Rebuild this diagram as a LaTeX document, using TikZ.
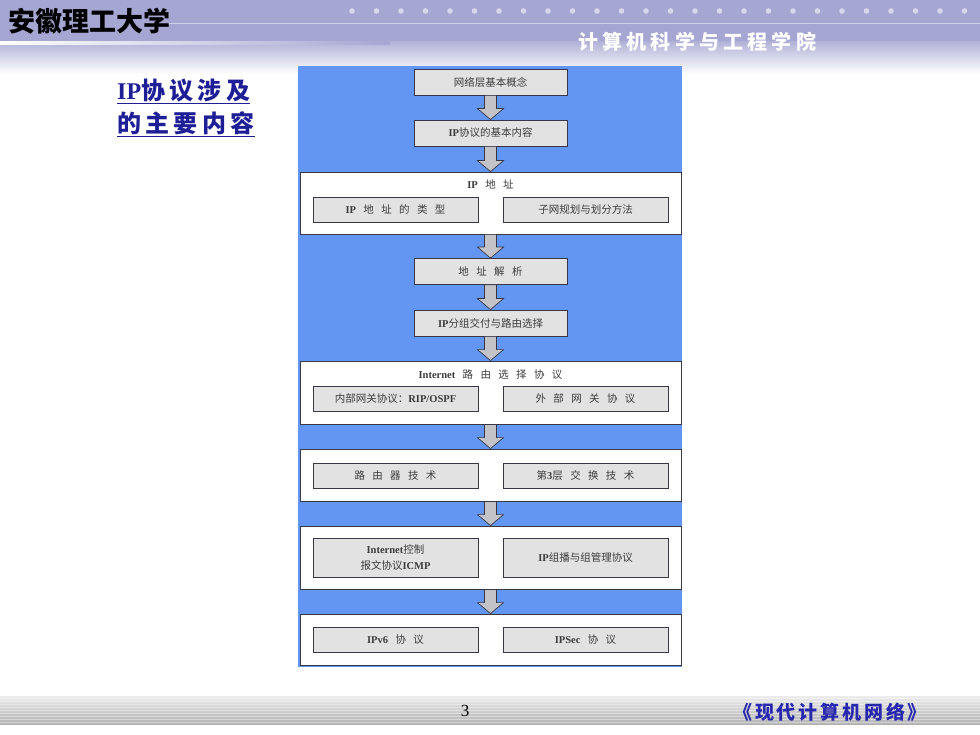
\documentclass[tikz,border=0pt]{standalone}
\usepackage{fontspec}
\setmainfont{Liberation Serif}
\newfontfamily\cjk{Noto Sans CJK SC}
\usetikzlibrary{calc}

\definecolor{panelblue}{RGB}{98,150,242}
\definecolor{boxgray}{RGB}{226,226,226}
\definecolor{boxline}{RGB}{55,55,70}
\definecolor{arrgray}{RGB}{195,195,200}
\definecolor{txtgray}{RGB}{60,60,60}
\definecolor{headblue}{RGB}{30,30,150}
\definecolor{lavender}{RGB}{166,166,210}
\definecolor{footblue}{RGB}{40,40,175}

\newcommand\en[1]{{\rmfamily\bfseries #1}}
\newcommand\kg{\hspace{0.7em}}
\newcommand\flowarrow[2]{\draw[flowarr] let \p1=(#1.south), \p2=(#2.north) in
  ({\x1-6pt},\y1) -- ({\x1-6pt},{\y2+11pt}) -- ({\x1-13pt},{\y2+11pt}) -- (\x1,\y2)
  -- ({\x1+13pt},{\y2+11pt}) -- ({\x1+6pt},{\y2+11pt}) -- ({\x1+6pt},\y1) -- cycle;}

\tikzset{
  flowbox/.style={draw=boxline, fill=boxgray, line width=0.8pt, minimum width=153,
    minimum height=26, inner sep=0pt, align=center, text=txtgray,
    font=\cjk\fontsize{10.5}{13}\selectfont},
  subbox/.style={flowbox, minimum width=165, minimum height=25},
  groupbox/.style={draw=boxline, fill=white, line width=0.8pt, minimum width=381, inner sep=0pt},
  grouptitle/.style={text=txtgray, font=\cjk\fontsize{10.5}{13}\selectfont},
  flowarr/.style={draw=boxline, fill=arrgray, line width=0.7pt},
  heading/.style={text=headblue, inner sep=0pt,
    font=\cjk\bfseries\fontsize{24}{28}\selectfont\addfontfeature{LetterSpace=18}}
}

\begin{document}
\begin{tikzpicture}[x=1pt, y=-1pt]
\useasboundingbox (0,0) rectangle (980,735);
\fill[lavender] (0,0) rectangle (980,42);
\shade[top color=lavender!85, bottom color=white] (0,42) rectangle (980,74);
\shade[left color=white, right color=lavender] (0,42) rectangle (390,44.5);
\draw[lavender!55!white, line width=1pt] (150,24) -- (980,24);
\foreach \i in {0,...,25}
  \fill[lavender!45!white] (352+24.5*\i,11) circle (2.8);
\node[anchor=west, inner sep=0pt, font=\cjk\bfseries\fontsize{27}{30}\selectfont] (school) at (8,21) {安徽理工大学};
\node[anchor=west, inner sep=0pt, text=white, font=\cjk\bfseries\fontsize{20}{24}\selectfont\addfontfeature{LetterSpace=21}] (college) at (578,42) {计算机科学与工程学院};

\node[heading, anchor=base west] (heada) at (117,100) {\en{IP}协议涉及};
\node[heading, anchor=base west] (headb) at (117,133) {的主要内容};
\draw[headblue, line width=1.3pt] ($(heada.base west)+(0,3.5)$) -- ($(heada.base east)+(0,3.5)$);
\draw[headblue, line width=1.3pt] ($(headb.base west)+(0,3.5)$) -- ($(headb.base east)+(0,3.5)$);

\fill[panelblue] (298,66) rectangle (682,667);

\node[flowbox] (netbase) at (490.5,82) {网络层基本概念};
\node[flowbox] (ipbasic) at (490.5,133) {\en{IP}协议的基本内容};
\node[groupbox, minimum height=62] (addrgrp) at (490.5,203) {};
\node[grouptitle] (addrtitle) at (490.5,184) {\en{IP}\kg 地\kg 址};
\node[subbox] (addrtype) at (395.5,209.5) {\en{IP}\kg 地\kg 址\kg 的\kg 类\kg 型};
\node[subbox] (subnet) at (585.5,209.5) {子网规划与划分方法};
\node[flowbox] (resolve) at (490.5,271.5) {地\kg 址\kg 解\kg 析};
\node[flowbox] (deliver) at (490.5,323) {\en{IP}分组交付与路由选择};
\node[groupbox, minimum height=63] (routegrp) at (490.5,392.5) {};
\node[grouptitle] (routetitle) at (490.5,375) {\en{Internet}\kg 路\kg 由\kg 选\kg 择\kg 协\kg 议};
\node[subbox] (igp) at (395.5,399) {内部网关协议：\en{RIP/OSPF}};
\node[subbox] (egp) at (585.5,399) {外\kg 部\kg 网\kg 关\kg 协\kg 议};
\node[groupbox, minimum height=52] (techgrp) at (490.5,475) {};
\node[subbox] (router) at (395.5,476) {路\kg 由\kg 器\kg 技\kg 术};
\node[subbox] (layer3) at (585.5,476) {第\en{3}层\kg 交\kg 换\kg 技\kg 术};
\node[groupbox, minimum height=63] (icmpgrp) at (490.5,557.5) {};
\node[subbox, minimum height=39] (icmp) at (395.5,557.5) {\en{Internet}控制\\[3pt]报文协议\en{ICMP}};
\node[subbox, minimum height=39] (igmp) at (585.5,557.5) {\en{IP}组播与组管理协议};
\node[groupbox, minimum height=51] (v6grp) at (490.5,639.5) {};
\node[subbox] (ipv6) at (395.5,640) {\en{IPv6}\kg 协\kg 议};
\node[subbox] (ipsec) at (585.5,640) {\en{IPSec}\kg 协\kg 议};

\flowarrow{netbase}{ipbasic}
\flowarrow{ipbasic}{addrgrp}
\flowarrow{addrgrp}{resolve}
\flowarrow{resolve}{deliver}
\flowarrow{deliver}{routegrp}
\flowarrow{routegrp}{techgrp}
\flowarrow{techgrp}{icmpgrp}
\flowarrow{icmpgrp}{v6grp}

\shade[top color=gray!15, bottom color=gray!60] (0,696) rectangle (980,724);
\foreach \y in {698,701,...,722}
  \draw[white, opacity=0.4, line width=0.5pt] (0,\y) -- (980,\y);
\node[font=\fontsize{17}{20}\selectfont] (pagenum) at (465,711) {3};
\node[anchor=west, inner sep=0pt, text=footblue, font=\cjk\bfseries\fontsize{19}{22}\selectfont\addfontfeature{LetterSpace=15}] (book) at (733,712) {《现代计算机网络》};
\end{tikzpicture}
\end{document}
